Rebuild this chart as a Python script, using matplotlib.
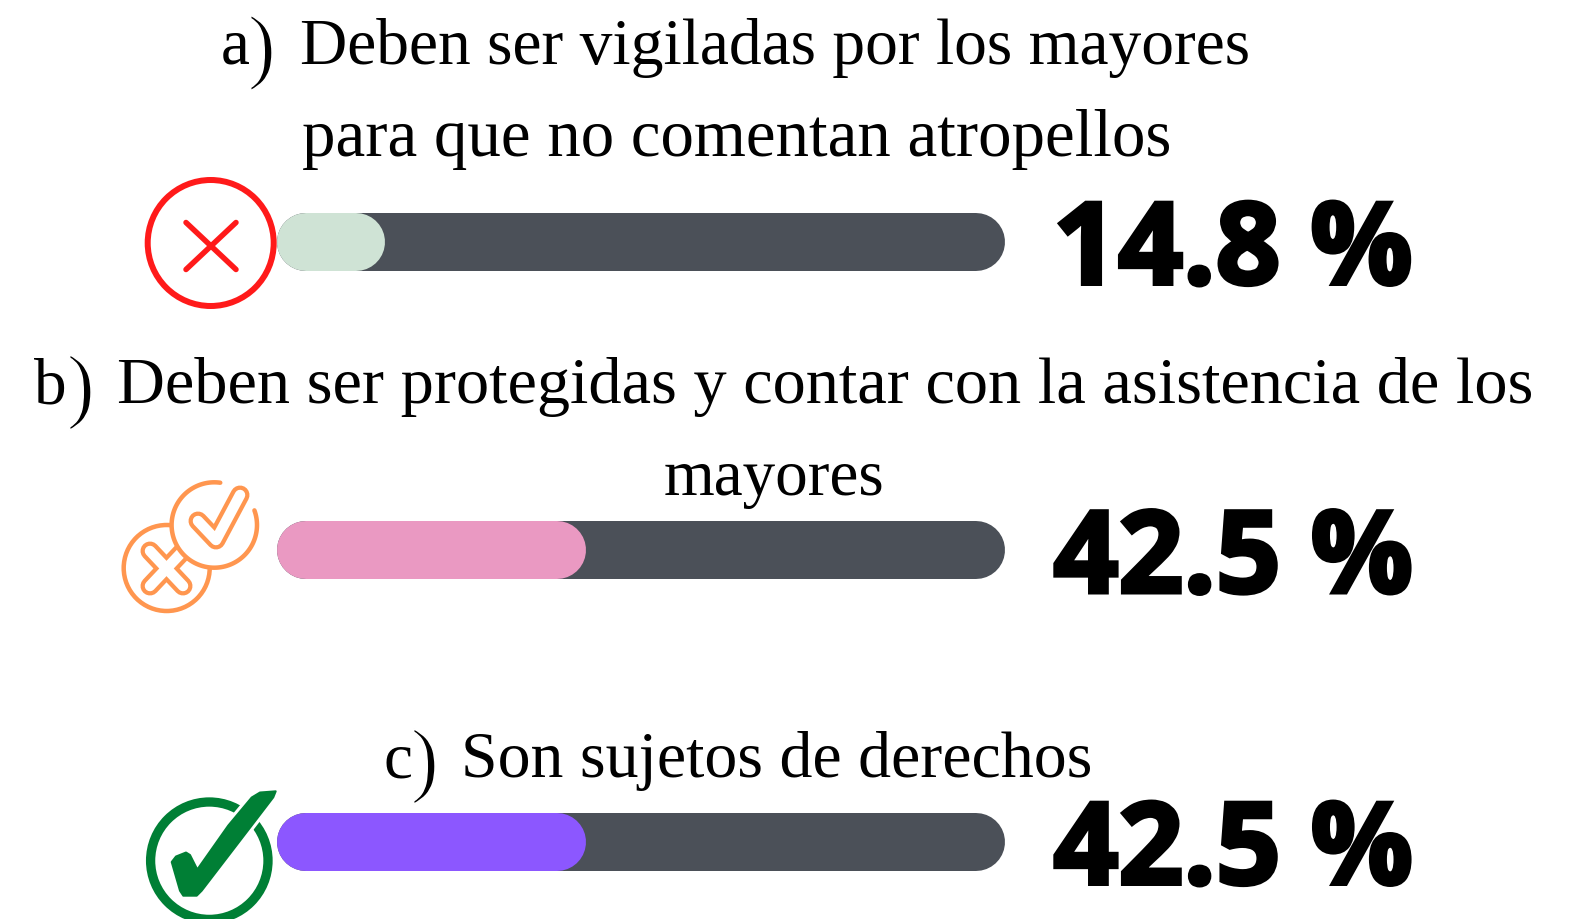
import numpy as np
import matplotlib
matplotlib.use("Agg")
import matplotlib.pyplot as plt
from matplotlib.patches import Circle, Polygon
import matplotlib.patheffects as pe

W, H = 1572, 920

# data
values = [14.8, 42.5, 42.5]
value_labels = ["14.8 %", "42.5 %", "42.5 %"]
fill_colors = ["#cfe3d5", "#ea99c2", "#8c57ff"]
track_color = "#4b5058"
markers = ["a", "b", "c"]
lines_a = ["Deben ser vigiladas por los mayores", "para que no comentan atropellos"]
lines_b = ["Deben ser protegidas y contar con la asistencia de los", "mayores"]
lines_c = ["Son sujetos de derechos"]

SERIF = "Liberation Serif"
TXT_SIZE = 47

fig = plt.figure(figsize=(W / 100, H / 100), dpi=100, facecolor="white")
ax = fig.add_axes([0, 0, 1, 1])
ax.set_xlim(0, W)
ax.set_ylim(H, 0)
ax.axis("off")


def px(w):
    # pixels to points at dpi 100
    return w * 0.72


def pill(left, width, mid, h, color):
    # thick line with round caps gives a true half circle end
    ax.plot([left + h / 2, left + width - h / 2], [mid, mid], color=color, lw=px(h),
            solid_capstyle="round", zorder=2)


def draw_bar(top, value, color, label):
    left, width, h = 277, 728, 58
    pill(left, width, top + h / 2, h, track_color)
    pill(left, width * value / 100, top + h / 2, h, color)
    t = ax.text(1413, top + 71.5, label, family="Open Sans", weight="bold", fontsize=82,
                ha="right", va="baseline", color="black")
    t.set_path_effects([pe.withStroke(linewidth=px(4), foreground="black", joinstyle="miter")])


def draw_marker(x, base, letter, gap):
    ax.text(x, base, letter, family=SERIF, fontsize=TXT_SIZE, ha="left", va="baseline", color="black")
    t = ax.text(x + gap, base + 10, ")", family=SERIF, fontsize=TXT_SIZE + 13, ha="left", va="baseline",
                color="black")
    # white edge thins the big bracket
    t.set_path_effects([pe.Stroke(linewidth=px(1.6), foreground="white")])


def draw_line(x, base, s, size=TXT_SIZE):
    ax.text(x, base, s, family=SERIF, fontsize=size, ha="left", va="baseline", color="black")


def line(pts, color, w, z=3):
    xs, ys = zip(*pts)
    ax.plot(xs, ys, color=color, lw=px(w), solid_capstyle="round", solid_joinstyle="round", zorder=z)


def icon_wrong():
    red = "#ff1a1a"
    ax.add_patch(Circle((210.7, 244), 63, fc="none", ec=red, lw=px(6)))
    line([(186, 223.5), (236, 270.5)], red, 5.5)
    line([(236, 223.5), (186, 270.5)], red, 5.5)


def icon_mixed():
    org = "#ff964f"
    ax.add_patch(Circle((166.7, 569), 43, fc="white", ec=org, lw=px(4.5), zorder=3))
    arms = [[(150, 552), (183, 587)], [(183, 552), (150, 587)]]
    for a in arms:
        line(a, org, 19, 3)
    for a in arms:
        line(a, "white", 10.5, 3)
    ax.add_patch(Circle((214.3, 526), 42.7, fc="white", ec="none", zorder=4))
    th = np.radians(np.linspace(82, 380, 120))
    line(list(zip(214.3 + 42.7 * np.cos(th), 526 - 42.7 * np.sin(th))), org, 4.5, 5)
    check = [(198, 522), (216, 541), (240, 496)]
    line(check, org, 19, 5)
    line(check, "white", 10.5, 5)


def icon_right():
    grn = "#007f35"
    ax.add_patch(Circle((209.3, 861.7), 58.7, fc="none", ec=grn, lw=px(9.3), zorder=3))
    # check mark outline
    pts = [(171.7, 863), (176, 857.5), (186, 853.5), (190, 856), (197.3, 870.5), (228.3, 826.5),
           (251.7, 798.5), (260, 793.5), (275.7, 792.3), (273.3, 798.3), (256.7, 820),
           (201.7, 891.7), (196.7, 896.7), (183.3, 896.7), (180, 891.7)]
    ax.add_patch(Polygon(pts, closed=True, fc="white", ec="white", lw=px(8), zorder=4, joinstyle="round"))
    ax.add_patch(Polygon(pts, closed=True, fc=grn, ec=grn, lw=px(2), zorder=5, joinstyle="round"))


# a)
draw_marker(221, 64, markers[0], 27)
draw_line(300, 64, lines_a[0], 47.2)
draw_line(302, 155.5, lines_a[1], 48.2)
icon_wrong()
draw_bar(213.5, values[0], fill_colors[0], value_labels[0])

# b)
draw_marker(34, 403.5, markers[1], 33)
draw_line(117, 403.5, lines_b[0], 47.8)
draw_line(664, 495.5, lines_b[1])
icon_mixed()
draw_bar(522, values[1], fill_colors[1], value_labels[1])

# c)
draw_marker(383, 777.5, markers[2], 28)
draw_line(461, 777.5, lines_c[0], 47.4)
icon_right()
draw_bar(813.5, values[2], fill_colors[2], value_labels[2])

fig.savefig("out.png", dpi=100, facecolor="white")
